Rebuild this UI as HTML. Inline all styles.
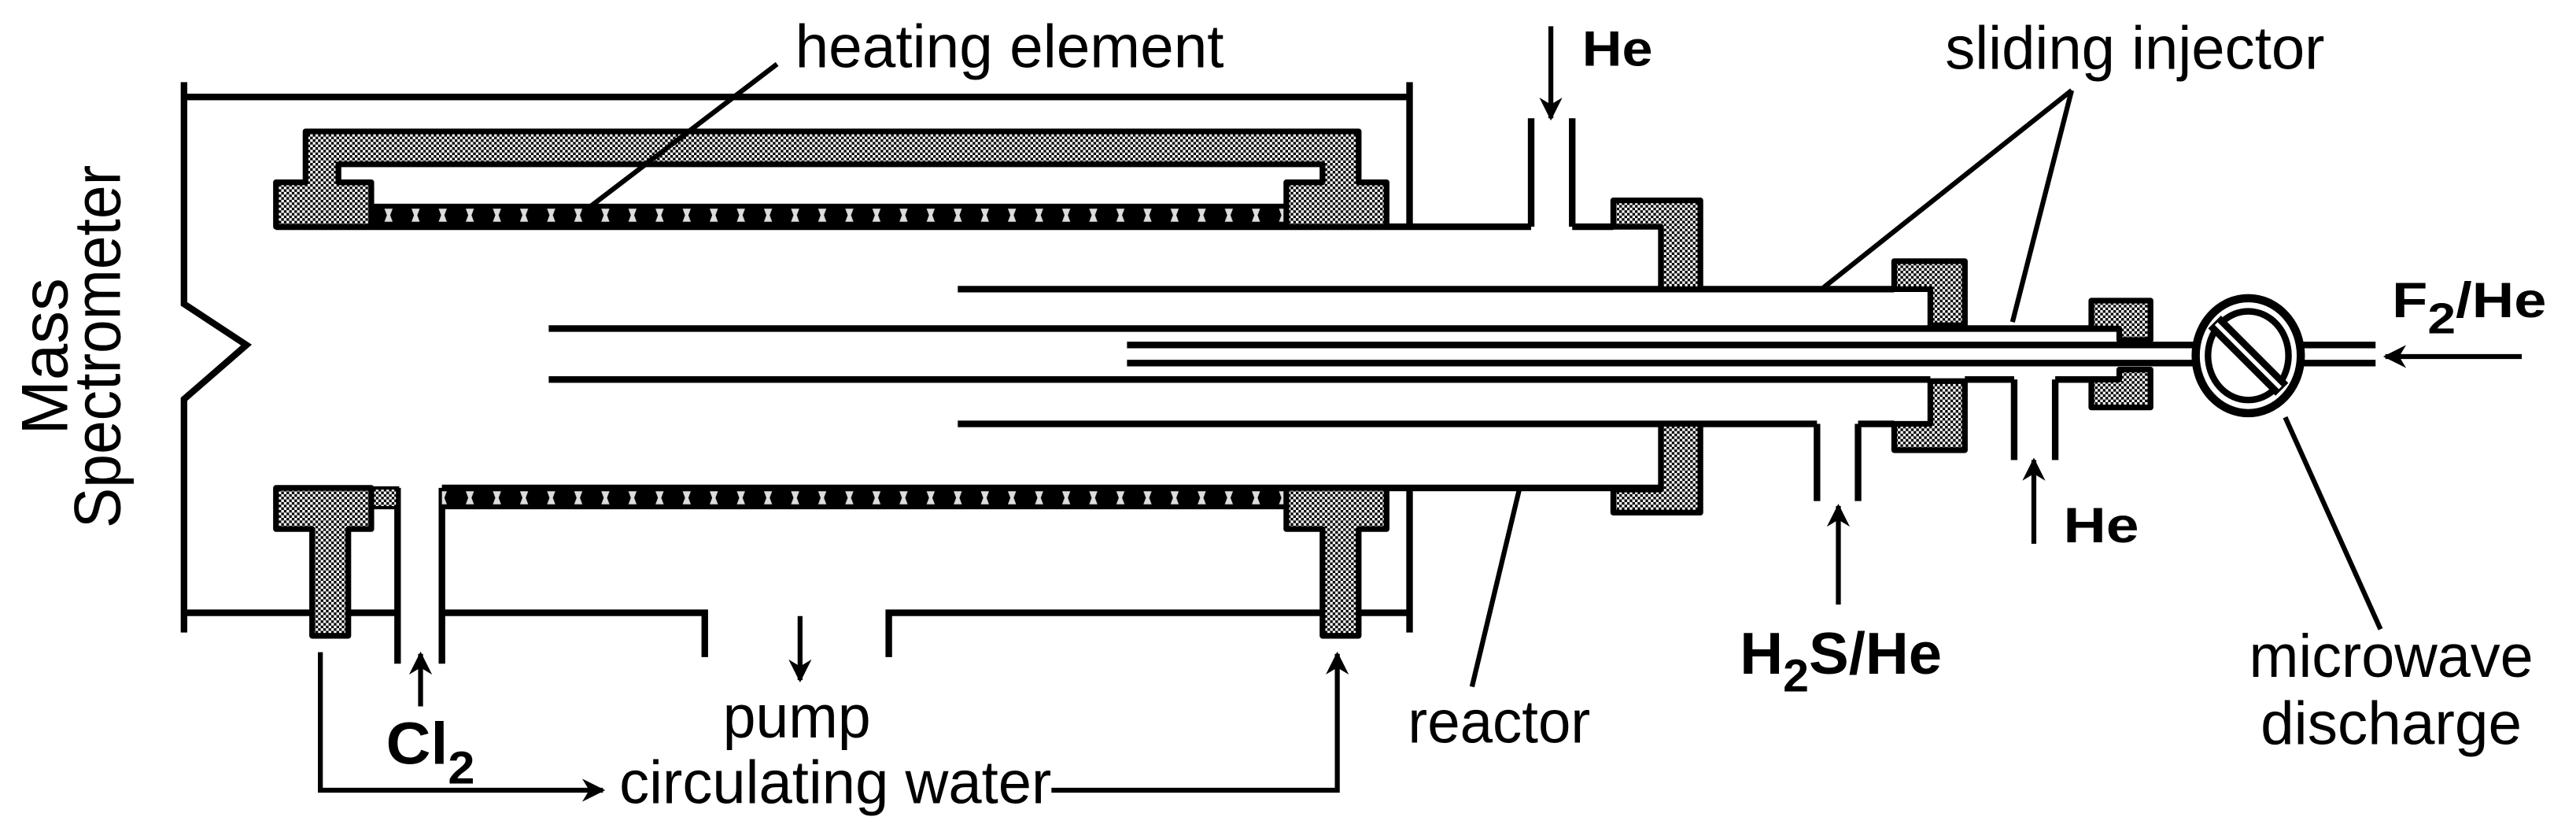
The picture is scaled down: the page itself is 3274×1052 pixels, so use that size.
<!DOCTYPE html>
<html><head><meta charset="utf-8"><style>html,body{margin:0;padding:0;background:#fff}svg{display:block}</style></head>
<body>
<svg width="3274" height="1052" viewBox="0 0 1568 504" preserveAspectRatio="none" xmlns="http://www.w3.org/2000/svg">
<defs>
<pattern id="g" width="3.2" height="3.2" patternUnits="userSpaceOnUse"><rect width="3.2" height="3.2" fill="#fff"/><rect width="1.6" height="1.6" fill="#000"/><rect x="1.6" y="1.6" width="1.6" height="1.6" fill="#000"/></pattern>
<pattern id="h" width="16.5" height="14" patternUnits="userSpaceOnUse" x="228" y="124"><rect width="16.5" height="14" fill="#000"/><path d="M6 3 h5 l-1.5 4 l1.5 4 h-5 l1.5 -4 z" fill="#ddd"/></pattern>
<pattern id="h2" width="16.5" height="14" patternUnits="userSpaceOnUse" x="228" y="296"><rect width="16.5" height="14" fill="#000"/><path d="M6 3 h5 l-1.5 4 l1.5 4 h-5 l1.5 -4 z" fill="#ddd"/></pattern>
<marker id="a" viewBox="0 0 10 10" refX="9" refY="5" markerWidth="15" markerHeight="14" orient="auto" markerUnits="userSpaceOnUse"><path d="M0 0 L10 5 L0 10 L3 5 z" fill="#000"/></marker>
</defs>
<rect width="1568" height="504" fill="#fff"/>
<g fill="none" stroke="#000" stroke-width="4">
<path d="M112 50 V185 L150 210 L112 243 V385"/>
<path d="M112 59 H858 M858 50 V137"/>
<path d="M112 373 H190 M212 373 H242 M269 373 H429 V400 M541 400 V373 H805 M827 373 H858 M858 297 V385"/>
<path d="M168 138 H932 M957 138 H982"/>
<path d="M932 72 V138 M957 72 V138"/>
<path d="M269 297 H1011"/>
<path d="M242 297 V404 M269 297 V404"/>
<path d="M583 176 H1153 M583 258 H1106 M1131 258 H1153"/>
<path d="M1106 258 V305 M1131 258 V305"/>
<path d="M334 200 H1290 M334 231 H1175 M1196 231 H1226 M1251 231 H1290"/>
<path d="M1226 231 V280 M1251 231 V280"/>
<path d="M686 210 H1336 M686 221 H1336 M1400 210 H1446 M1400 221 H1446"/>
</g>
<rect x="226" y="124" width="557" height="14" fill="url(#h)"/>
<rect x="269" y="296" width="514" height="14" fill="url(#h2)"/>
<rect x="226" y="297" width="16" height="12" fill="url(#g)" stroke="#000" stroke-width="2"/>
<g fill="url(#g)" stroke="#000" stroke-width="3.5" stroke-linejoin="round">
<path d="M186 80 H827 V111 H844 V138 H783 V111 H805 V100 H206 V111 H226 V138 H168 V111 H186 Z"/>
<path d="M168 297 H226 V322 H212 V387 H190 V322 H168 Z"/>
<path d="M783 297 H844 V322 H827 V387 H805 V322 H783 Z"/>
<path d="M982 122 H1035 V176 H1011 V138 H982 Z"/>
<path d="M1011 258 H1035 V312 H982 V298 H1011 Z"/>
<path d="M1153 159 H1196 V198 H1175 V176 H1153 Z"/>
<path d="M1175 232 H1196 V274 H1153 V258 H1175 Z"/>
<path d="M1273 183 H1309 V207 H1290 V200 H1273 Z"/>
<path d="M1290 225 H1309 V248 H1273 V231 H1290 Z"/>
</g>
<ellipse cx="1368.5" cy="216.5" rx="32" ry="35" fill="#fff" stroke="#000" stroke-width="5"/>
<ellipse cx="1368.5" cy="216.5" rx="24.5" ry="27" fill="#fff" stroke="#000" stroke-width="4"/>
<line x1="1348" y1="196" x2="1389" y2="237" stroke="#000" stroke-width="11"/>
<line x1="1349" y1="197" x2="1388" y2="236" stroke="#fff" stroke-width="2.5"/>
<g stroke="#000" stroke-width="3" fill="none">
<line x1="944" y1="16" x2="944" y2="72" marker-end="url(#a)"/>
<line x1="487" y1="375" x2="487" y2="414" marker-end="url(#a)"/>
<line x1="256" y1="430" x2="256" y2="398" marker-end="url(#a)"/>
<line x1="1119" y1="368" x2="1119" y2="308" marker-end="url(#a)"/>
<line x1="1238" y1="331" x2="1238" y2="280" marker-end="url(#a)"/>
<line x1="1535" y1="217" x2="1452" y2="217" marker-end="url(#a)"/>
<path d="M195 397 V481 H367" marker-end="url(#a)"/>
<path d="M640 481 H814 V398" marker-end="url(#a)"/>
<line x1="473" y1="39" x2="355" y2="129"/>
<line x1="1261" y1="55" x2="1110" y2="175"/>
<line x1="1261" y1="55" x2="1225" y2="196"/>
<line x1="925" y1="297" x2="896" y2="418"/>
<line x1="1391" y1="254" x2="1449" y2="383"/>
</g>
<g font-family="Liberation Sans, sans-serif" fill="#000" font-size="37">
<text x="484" y="41" textLength="261" lengthAdjust="spacingAndGlyphs">heating element</text>
<text x="1184" y="42" textLength="231" lengthAdjust="spacingAndGlyphs">sliding injector</text>
<text x="857" y="452" textLength="111" lengthAdjust="spacingAndGlyphs">reactor</text>
<text x="440" y="449" textLength="90" lengthAdjust="spacingAndGlyphs">pump</text>
<text x="377" y="489" textLength="263" lengthAdjust="spacingAndGlyphs">circulating water</text>
<text x="1369" y="412" textLength="173" lengthAdjust="spacingAndGlyphs">microwave</text>
<text x="1376" y="453" textLength="159" lengthAdjust="spacingAndGlyphs">discharge</text>
<g font-weight="bold" font-size="30">
<text x="963" y="40" textLength="43" lengthAdjust="spacingAndGlyphs">He</text>
<text x="1256" y="330" textLength="46" lengthAdjust="spacingAndGlyphs">He</text>
<text x="1456" y="193" textLength="94" lengthAdjust="spacingAndGlyphs">F<tspan font-size="26" dy="10">2</tspan><tspan dy="-10">/He</tspan></text>
<text x="235" y="465" textLength="54" lengthAdjust="spacingAndGlyphs" font-size="36">Cl<tspan font-size="28" dy="12">2</tspan></text>
<text x="1059" y="410" font-size="36" textLength="123" lengthAdjust="spacingAndGlyphs">H<tspan font-size="28" dy="11">2</tspan><tspan dy="-11">S/He</tspan></text>
</g>
<g font-size="40" text-anchor="middle">
<text transform="translate(41 217) rotate(-90)">Mass</text>
<text transform="translate(73 211) rotate(-90)" textLength="221" lengthAdjust="spacingAndGlyphs">Spectrometer</text>
</g>
</g>
</svg>
</body></html>
